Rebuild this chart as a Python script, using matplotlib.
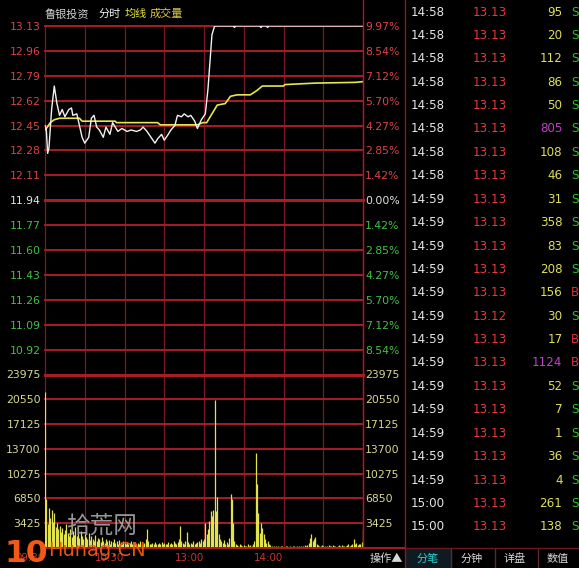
import matplotlib
matplotlib.use('Agg')
import matplotlib.pyplot as plt
from matplotlib import font_manager
from matplotlib.lines import Line2D
from matplotlib.patches import Rectangle

# ---------------- data ----------------
stock_name = '鲁银投资'
prev_close = 11.94

# intraday price (minute index from 09:30, 0..240)
price_min = [0, 1, 2, 3, 5, 7, 9, 11, 13, 15, 18, 20, 21, 24, 26, 28, 30, 33, 35, 37,
             39, 41, 44, 46, 49, 51, 53, 55, 58, 62, 65, 69, 72, 74, 77, 80, 83, 85, 88, 90,
             93, 95, 98, 100, 103, 105, 108, 110, 113, 115, 118, 121, 123, 126, 128, 142, 143, 144, 162, 163,
             164, 167, 168, 169, 240]
prices = [12.45, 12.42, 12.26, 12.30, 12.56, 12.72, 12.60, 12.52, 12.56, 12.51,
          12.56, 12.57, 12.52, 12.53, 12.45, 12.37, 12.33, 12.37, 12.50, 12.52,
          12.44, 12.42, 12.37, 12.44, 12.39, 12.47, 12.44, 12.41, 12.43, 12.41,
          12.42, 12.41, 12.42, 12.44, 12.41, 12.37, 12.33, 12.36, 12.39, 12.35,
          12.39, 12.42, 12.45, 12.52, 12.51, 12.53, 12.51, 12.52, 12.48, 12.43,
          12.49, 12.53, 12.70, 13.07, 13.13, 13.13, 13.12, 13.13, 13.13, 13.12,
          13.13, 13.13, 13.12, 13.13, 13.13]

avg_min = [0, 1, 4, 7, 11, 26, 28, 53, 54, 85, 87, 115, 119, 122, 124, 127, 130, 136, 140, 145,
           155, 160, 164, 180, 181, 204, 234, 240]
avg_price = [12.42, 12.43, 12.47, 12.49, 12.50, 12.50, 12.48, 12.48, 12.47, 12.47,
             12.455, 12.455, 12.47, 12.47, 12.50, 12.545, 12.59, 12.60, 12.65, 12.66,
             12.66, 12.69, 12.72, 12.72, 12.73, 12.74, 12.745, 12.75]

volume = [
    # 09:30 - 11:29
    21500, 6800, 3300, 5500, 4200, 5200, 3600, 4800, 2900, 3500, 2600,
    3100, 2200, 2800, 1900, 2500, 3300, 2100, 1700, 2600, 1500, 2300, 1800, 2900, 1600, 2000, 1400, 2400, 1700, 1300, 2000,
    1500, 1200, 2100, 1100, 1600, 1300, 900, 1800, 1000, 1400, 1200, 800, 1500, 1000, 700, 1300, 900, 1100, 600, 1000,
    800, 1200, 700, 900, 600, 1100, 800, 500, 900, 700,
    600, 800, 500, 700, 900, 600, 500, 800, 600, 700, 500, 900, 600, 400, 700, 1200, 2600, 900, 600, 500,
    700, 600, 800, 500, 600, 700, 500, 800, 600, 700,
    500, 600, 800, 500, 700, 600, 900, 700, 600, 800, 1200, 3000, 900, 700, 600, 1000, 2200, 800, 600, 700,
    500, 900, 600, 700, 800, 1000, 700, 1200, 900,
    # 13:00 - 15:00
    1200, 3400, 1900, 2600, 3700, 5100, 4400, 5200, 20400, 5100, 7000, 2000, 1200, 900, 700, 1100, 600, 800, 500, 1400,
    7500, 6800, 3400, 1000, 500, 400, 300, 500, 400, 300, 400, 300, 300, 500, 300, 400, 300, 600, 900, 13100,
    8900, 4900, 2100, 3400, 2800, 2000, 1200, 700, 1000, 500,
    400, 300, 200, 300, 250, 200, 300, 200, 250, 300, 200, 150, 250, 300, 200, 250, 200, 300, 250, 200,
    300, 200, 250, 300, 200, 250, 350, 300, 400, 700,
    1400, 2000, 900, 1300, 1500, 600, 400,
    300, 250, 400, 300, 250, 200, 300, 350, 250, 300, 400, 300, 250, 200, 300, 350, 300, 400, 300, 250,
    300, 400, 500, 300, 400,
    600, 1300, 500, 700, 400, 600, 500, 800, 2600,
]

price_levels = [13.13, 12.96, 12.79, 12.62, 12.45, 12.28, 12.11, 11.94,
                11.77, 11.60, 11.43, 11.26, 11.09, 10.92]
price_labels = ['13.13', '12.96', '12.79', '12.62', '12.45', '12.28', '12.11', '11.94',
                '11.77', '11.60', '11.43', '11.26', '11.09', '10.92']
pct_labels = ['9.97%', '8.54%', '7.12%', '5.70%', '4.27%', '2.85%', '1.42%', '0.00%',
              '1.42%', '2.85%', '4.27%', '5.70%', '7.12%', '8.54%']
price_floor = 10.75

vol_levels = [23975, 20550, 17125, 13700, 10275, 6850, 3425]
vol_labels = ['23975', '20550', '17125', '13700', '10275', '6850', '3425']

time_ticks = [0, 60, 120, 180]
time_labels = ['09:30', '10:30', '13:00', '14:00']

tick_times = ['14:58'] * 8 + ['14:59'] * 13 + ['15:00'] * 2
tick_prices = ['13.13'] * 13 + ['13.12'] + ['13.13'] * 9
tick_vols = [95, 20, 112, 86, 50, 805, 108, 46, 31, 358, 83, 208, 156, 30, 17, 1124,
             52, 7, 1, 36, 4, 261, 138]
tick_sides = ['S'] * 12 + ['B', 'S', 'B', 'B'] + ['S'] * 7

tabs = ['分笔', '分钟', '详盘', '数值']

# ---------------- style ----------------
def has_font(name):
    try:
        font_manager.findfont(font_manager.FontProperties(family=name), fallback_to_default=False)
        return True
    except Exception:
        return False

NARROW = has_font('Liberation Sans Narrow')
NUM = 'Liberation Sans Narrow' if NARROW else 'DejaVu Sans'
sc = 1.0 if NARROW else 0.78
CJK = ['Noto Sans CJK SC', 'DejaVu Sans']
plt.rcParams['font.family'] = [NUM, 'Noto Sans CJK SC', 'DejaVu Sans']

BG = 'black'
GRID_H = '#a81c26'
GRID_V = '#7e1820'
RED = '#d84444'
GREEN = '#44c044'
WHITE = '#e4e4e4'
YEL_LBL = '#d8d890'
VOL_C = '#e2e24a'

W, H = 579, 568
fig = plt.figure(figsize=(W / 100, H / 100), dpi=100, facecolor=BG)

def fx(px):
    return px / W

def fy(py):
    return 1 - py / H

X0, X1 = 45, 363
Y_TOP, Y_SEP, Y_BOT = 26, 374.5, 548

ax_p = fig.add_axes([fx(X0), fy(Y_SEP), (X1 - X0) / W, (Y_SEP - Y_TOP) / H])
ax_v = fig.add_axes([fx(X0), fy(Y_BOT), (X1 - X0) / W, (Y_BOT - Y_SEP) / H])

for ax in (ax_p, ax_v):
    ax.set_facecolor(BG)
    ax.set_xlim(0, 240)
    for s in ax.spines.values():
        s.set_visible(False)
    for t in range(0, 241, 30):
        ax.axvline(t, color=GRID_V, lw=0.9, zorder=1, clip_on=False)

ax_p.set_ylim(price_floor, price_levels[0])
for lv in price_levels:
    ax_p.axhline(lv, color=GRID_H, lw=2.2 if lv == prev_close else 1.4, zorder=1, clip_on=False)

ax_v.set_ylim(0, vol_levels[0])
for lv in vol_levels + [0]:
    ax_v.axhline(lv, color=GRID_H, lw=2.2 if lv == vol_levels[0] else 1.4, zorder=1, clip_on=False)

# price + average lines
ax_p.plot(price_min, prices, color='#f2f2f2', lw=1.0, zorder=3)
ax_p.plot(avg_min, avg_price, color='#e6e650', lw=1.2, zorder=2)

# volume bars
ax_v.vlines(range(len(volume)), 0, volume, color=VOL_C, lw=0.9, zorder=3)

# price axis labels
def label_colors(levels):
    return [RED if v > prev_close + 1e-9 else (WHITE if abs(v - prev_close) < 1e-9 else GREEN) for v in levels]

ax_p.set_yticks(price_levels)
ax_p.set_yticklabels(price_labels, fontsize=10 * sc)
ax_p.tick_params(axis='y', length=0, pad=3)
ax_p.set_xticks([])
for lbl, c in zip(ax_p.get_yticklabels(), label_colors(price_levels)):
    lbl.set_color(c)

ax_pr = ax_p.twinx()
ax_pr.set_ylim(price_floor, price_levels[0])
ax_pr.set_yticks(price_levels)
ax_pr.set_yticklabels(pct_labels, fontsize=10 * sc)
ax_pr.tick_params(axis='y', length=0, pad=1.5)
for s in ax_pr.spines.values():
    s.set_visible(False)
for lbl, c in zip(ax_pr.get_yticklabels(), label_colors(price_levels)):
    lbl.set_color(c)

ax_v.set_yticks(vol_levels)
ax_v.set_yticklabels(vol_labels, fontsize=10 * sc, color=YEL_LBL)
ax_v.tick_params(axis='y', length=0, pad=3)
ax_v.set_xticks(time_ticks)
ax_v.set_xticklabels(time_labels, fontsize=9.5 * sc, color='#c83434')
ax_v.tick_params(axis='x', length=0, pad=3.5)
plt.setp(ax_v.get_xticklabels(), ha='right')

ax_vr = ax_v.twinx()
ax_vr.set_ylim(0, vol_levels[0])
ax_vr.set_yticks(vol_levels)
ax_vr.set_yticklabels(vol_labels, fontsize=10 * sc, color=YEL_LBL)
ax_vr.tick_params(axis='y', length=0, pad=1.5)
for s in ax_vr.spines.values():
    s.set_visible(False)

# frame lines
fig.add_artist(Line2D([fx(X1), fx(X1)], [fy(0), fy(Y_BOT)], color=GRID_H, lw=1.0))
fig.add_artist(Line2D([fx(405), fx(405)], [fy(0), fy(568)], color='#8a1a22', lw=1.0))
fig.add_artist(Line2D([fx(X0), fx(405)], [fy(Y_BOT), fy(Y_BOT)], color=GRID_H, lw=1.4))
fig.add_artist(Line2D([fx(405), fx(579)], [fy(Y_BOT), fy(Y_BOT)], color='#6a1a1e', lw=1.0))

# title
fig.text(fx(45), fy(14), stock_name, family=CJK, fontsize=8, color='#d0d0d0', va='center')
fig.text(fx(99), fy(14), '分时', family=CJK, fontsize=8, color='#f0f0f0', va='center')
fig.text(fx(125), fy(14), '均线', family=CJK, fontsize=8, color='#e8e830', va='center')
fig.text(fx(150), fy(14), '成交量', family=CJK, fontsize=8, color='#d8c848', va='center')

# trade-ticks panel
ax_t = fig.add_axes([fx(405), fy(Y_BOT), (579 - 405) / W, Y_BOT / H])
ax_t.set_facecolor(BG)
ax_t.axis('off')
ax_t.set_xlim(0, 1)
ax_t.set_ylim((Y_BOT - 12) / 23.4, -12 / 23.4)
for i, (tm, pr, vo, sd) in enumerate(zip(tick_times, tick_prices, tick_vols, tick_sides)):
    ax_t.text(0.03, i, tm, color=WHITE, fontsize=11 * sc, va='center', ha='left')
    ax_t.text(0.585, i, pr, color='#e83838', fontsize=11 * sc, va='center', ha='right')
    ax_t.text(0.905, i, str(vo), color=('#c040c8' if vo >= 500 else '#dede5a'),
              fontsize=11 * sc, va='center', ha='right')
    ax_t.text(0.955, i, sd, color=('#28c028' if sd == 'S' else '#e03030'),
              fontsize=11 * sc, va='center', ha='left')

# bottom tabs
ax_b = fig.add_axes([fx(363), 0, (579 - 363) / W, (568 - Y_BOT) / H])
ax_b.set_facecolor(BG)
ax_b.axis('off')
ax_b.set_xlim(363, 579)
ax_b.set_ylim(0, 1)
ax_b.add_patch(Rectangle((406, 0), 45, 1, color='#0e1c22'))
ax_b.text(386, 0.45, '操作▲', family=CJK, fontsize=8, color='#d8d8d8', ha='center', va='center')
tab_x = [428, 472, 515, 558]
for k, (tx, tb) in enumerate(zip(tab_x, tabs)):
    ax_b.text(tx, 0.45, tb, family=CJK, fontsize=8, color=('#30d0d0' if k == 0 else '#d8d8d8'),
              ha='center', va='center')
for sx in [451, 495, 538]:
    ax_b.axvline(sx, color='#5a2a2a', lw=1.0)

# watermark
fig.text(fx(4), fy(568), '10', fontsize=29 * sc, fontweight='bold', color='#f05a14', ha='left', va='bottom')
fig.text(fx(66), fy(527), '拾荒网', family=CJK, fontsize=17, color='#b0b0b0', alpha=0.85, ha='left', va='center')
fig.text(fx(48), fy(551), 'Hunag.CN', family=['DejaVu Sans'], fontsize=14, color='#f05a14', alpha=0.95,
         ha='left', va='center')

fig.savefig('out.png', dpi=100, facecolor=BG)
